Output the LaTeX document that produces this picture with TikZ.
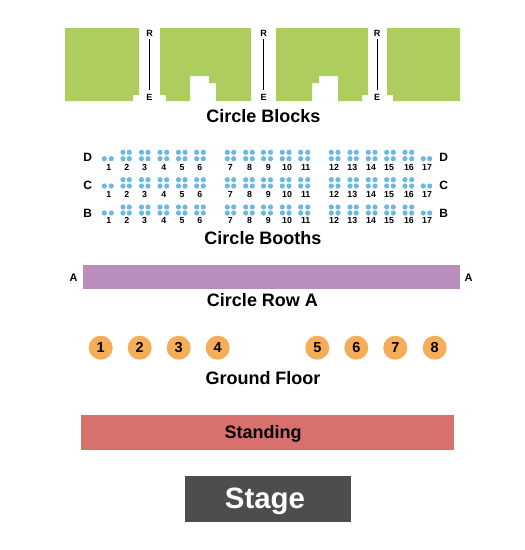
\documentclass[tikz,border=0pt]{standalone}
\usepackage{fontspec}
\setmainfont{Liberation Sans}
\definecolor{blockgreen}{HTML}{ADCD5E}
\definecolor{rowpurple}{HTML}{B98EBC}
\definecolor{standred}{HTML}{D8706E}
\definecolor{stagegray}{HTML}{4D4D4D}
\definecolor{seatorange}{HTML}{F5AD5A}
\definecolor{dotblue}{HTML}{6BB8E3}
\newcommand{\fs}[1]{\fontsize{#1}{#1}\selectfont\bfseries}
\tikzset{
  lbl/.style={inner sep=0pt,outer sep=0pt,anchor=base,text=black},
  title/.style={lbl,font=\fs{18}},
  seatnum/.style={lbl,font=\fs{8.8}},
  rowletter/.style={lbl,font=\fs{12}},
  aisle/.style={lbl,font=\fs{9}},
  block/.style={fill=blockgreen,draw=none},
  dotseat/.style={fill=dotblue,draw=none},
  roundseat/.style={circle,fill=seatorange,draw=none,minimum size=24pt,inner sep=0pt,font=\fs{14.5},text=black}
}
\begin{document}
\begin{tikzpicture}[x=1pt,y=-1pt]
\useasboundingbox (0,0) rectangle (525,550);
% Circle blocks
\fill[block] (65,28) -- (139,28) -- (139,95) -- (133,95) -- (133,101) -- (65,101) -- cycle;
\fill[block] (160,28) -- (251,28) -- (251,101) -- (216,101) -- (216,83) -- (209,83) -- (209,76) -- (190,76) -- (190,101) -- (166,101) -- (166,95) -- (160,95) -- cycle;
\fill[block] (276,28) -- (368,28) -- (368,95) -- (362,95) -- (362,101) -- (338,101) -- (338,76) -- (319,76) -- (319,83) -- (312,83) -- (312,101) -- (276,101) -- cycle;
\fill[block] (387,28) -- (460,28) -- (460,101) -- (393,101) -- (393,95) -- (387,95) -- cycle;
% Aisles
\foreach \i/\x in {1/149.5,2/263.7,3/377.2}{
  \node[aisle] (r\i) at (\x,36) {R};
  \node[aisle] (e\i) at (\x,100.2) {E};
  \draw[line width=0.9pt,black] (\x,39) -- (\x,90);
}
\node[title] (tblocks) at (263.5,122.8) {Circle Blocks};
% Booths
\foreach \rowname/\ya/\yb/\yn/\yl in {D/152.3/158.7/170.9/161.7,C/179.7/186/197.9/189.3,B/207/213/223.9/217}{
  \node[rowletter] (left\rowname) at (87.7,\yl) {\rowname};
  \node[rowletter] (right\rowname) at (443.7,\yl) {\rowname};
  \foreach \n/\xa/\xb/\xn in {1/104.3/111.3/108.7,2/123/129.3/126.7,3/141.5/148/144.5,4/160/166.7/163.7,5/178.5/185/182,6/196.7/203.3/199.7,7/227.3/233.7/230.3,8/245.7/252.3/249.5,9/263.5/270.5/268.3,10/282.3/289/287,11/300.7/307.7/305.7,12/331.3/338/334,13/350/356.3/352.3,14/368.3/375/371,15/386.7/393.3/389,16/405/411.7/409,17/423.3/429.7/427}{
    \fill[dotseat] (\xa,\yb) circle[radius=2.6];
    \fill[dotseat] (\xb,\yb) circle[radius=2.6];
    \ifnum\n=1\else\ifnum\n=17\else
      \fill[dotseat] (\xa,\ya) circle[radius=2.6];
      \fill[dotseat] (\xb,\ya) circle[radius=2.6];
    \fi\fi
    \node[seatnum] (n\rowname\n) at (\xn,\yn) {\n};
  }
}
\node[title] (tbooths) at (263,244.8) {Circle Booths};
% Row A
\fill[rowpurple] (83,265) rectangle (460,289);
\node[rowletter,font=\fs{11}] (aleft) at (73.5,281) {A};
\node[rowletter,font=\fs{11}] (aright) at (468.7,281) {A};
\node[title] (trow) at (262.5,306.7) {Circle Row A};
% Ground floor
\foreach \n/\x in {1/100.7,2/139.7,3/178.7,4/217.7,5/317.3,6/356.3,7/395.3,8/434.7}{
  \node[roundseat] (g\n) at (\x,347.7) {\n};
}
\node[title] (tground) at (263,384) {Ground Floor};
% Standing
\fill[standred] (81,415) rectangle (454,450);
\node[title] (tstand) at (263,438.4) {Standing};
% Stage
\fill[stagegray] (185,476) rectangle (351,522);
\node[lbl,font=\fs{29.4},text=white] (tstage) at (265,508.3) {Stage};
\end{tikzpicture}
\end{document}
